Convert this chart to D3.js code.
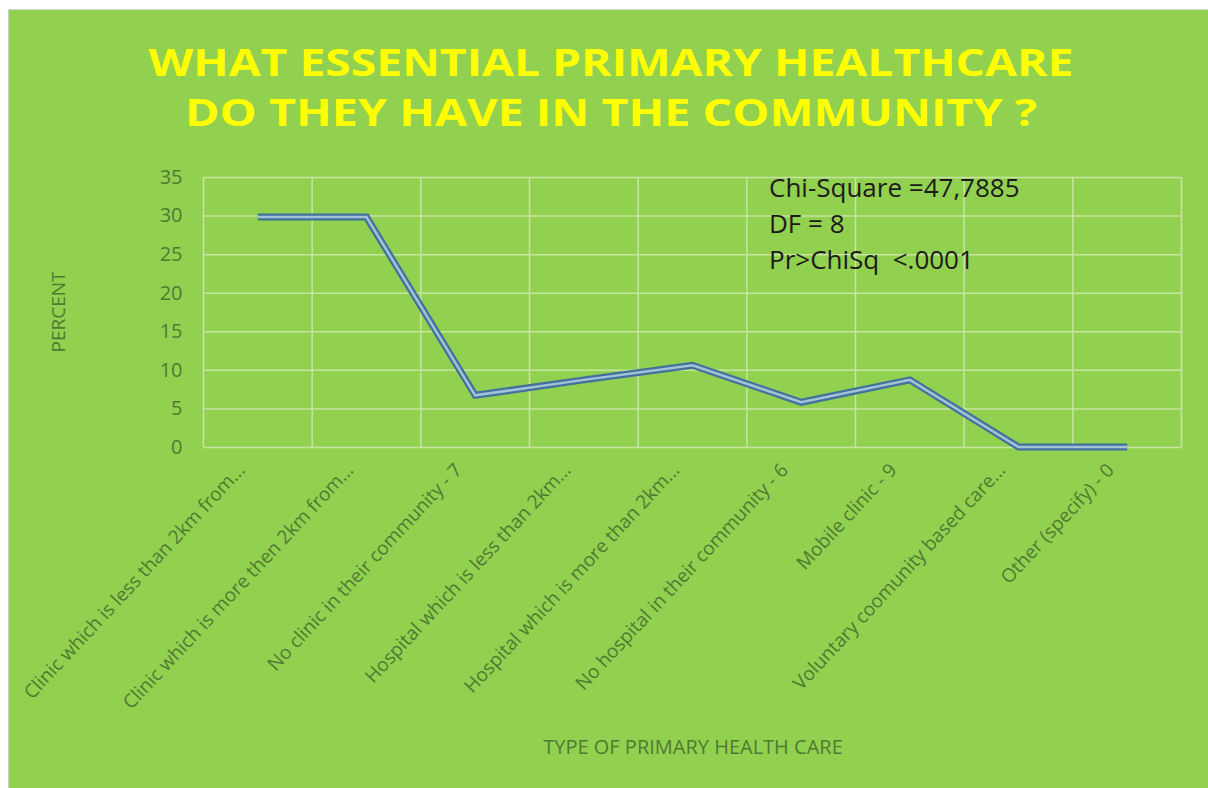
<!DOCTYPE html>
<html>
<head>
<meta charset="utf-8">
<script src="https://cdn.jsdelivr.net/npm/d3@7"></script>
<style>
  html, body { margin: 0; padding: 0; background: #ffffff; }
  svg { display: block; }
</style>
</head>
<body>
<svg id="chart" width="1208" height="788"></svg>
<script>
// Type of primary health care available in the community (percent of respondents)
const categories = [
  "Clinic which is less than 2km from...",
  "Clinic which is more then 2km from...",
  "No clinic in their community - 7",
  "Hospital which is less than 2km...",
  "Hospital which is more than 2km...",
  "No hospital in their community - 6",
  "Mobile clinic - 9",
  "Voluntary coomunity based care...",
  "Other (specify) - 0"
];
const percents = [29.8, 29.8, 6.7, 8.7, 10.6, 5.8, 8.7, 0, 0];
const yTicks = [0, 5, 10, 15, 20, 25, 30, 35];
const titleLines = ["WHAT ESSENTIAL PRIMARY HEALTHCARE", "DO THEY HAVE IN THE COMMUNITY ?"];
const statsLines = ["Chi-Square =47,7885", "DF = 8", "Pr>ChiSq  <.0001"];

const svg = d3.select("#chart");
const W = 1208, H = 788;
const green = "#92D050";
const textGreen = "#4F7B31";
const gridColor = "#C6E5A2";

// chart background with thin grey edge
svg.append("rect").attr("x", 8).attr("y", 9).attr("width", W - 8).attr("height", H - 9)
  .attr("fill", green);
svg.append("line").attr("x1", 8.5).attr("x2", 8.5).attr("y1", 9).attr("y2", H)
  .attr("stroke", "#c8cfc0").attr("stroke-width", 1);
svg.append("line").attr("x1", 8).attr("x2", W).attr("y1", 9.5).attr("y2", 9.5)
  .attr("stroke", "#d0d6c8").attr("stroke-width", 1);

const plot = { left: 203.5, right: 1181.5, top: 177, bottom: 447 };

const x = d3.scaleBand().domain(categories).range([plot.left, plot.right]);
const y = d3.scaleLinear().domain([0, 35]).range([plot.bottom, plot.top]);

// title
svg.append("g").selectAll("text").data(titleLines).join("text")
  .attr("x", 611)
  .attr("y", (d, i) => 76 + i * 50)
  .attr("text-anchor", "middle")
  .attr("font-family", "Open Sans, sans-serif")
  .attr("font-weight", 700)
  .attr("font-size", 37)
  .attr("fill", "#FFFF00")
  .attr("textLength", (d, i) => i === 0 ? 925 : 852)
  .attr("lengthAdjust", "spacingAndGlyphs")
  .text(d => d);

// horizontal gridlines
const gy = svg.append("g")
  .attr("transform", `translate(${plot.left},0)`)
  .call(d3.axisLeft(y).tickValues(yTicks).tickSize(-(plot.right - plot.left)).tickFormat(""));
gy.select(".domain").remove();
gy.selectAll(".tick line").attr("stroke", gridColor).attr("stroke-width", 1.5);

// vertical gridlines at category boundaries
const bounds = categories.map(c => x(c)).concat([plot.right]);
svg.append("g").selectAll("line").data(bounds).join("line")
  .attr("x1", d => d).attr("x2", d => d)
  .attr("y1", plot.top).attr("y2", plot.bottom)
  .attr("stroke", gridColor).attr("stroke-width", 1.5);

// y tick labels
const yAxis = svg.append("g")
  .attr("transform", `translate(${plot.left},0)`)
  .call(d3.axisLeft(y).tickValues(yTicks).tickSize(0).tickPadding(21));
yAxis.select(".domain").remove();
yAxis.selectAll("text")
  .attr("font-family", "Open Sans, sans-serif")
  .attr("font-size", 20)
  .attr("fill", textGreen);

// x category labels, rotated
const xAxis = svg.append("g")
  .attr("transform", `translate(0,${plot.bottom})`)
  .call(d3.axisBottom(x).tickSize(0).tickPadding(0));
xAxis.select(".domain").remove();
xAxis.selectAll("text")
  .attr("font-family", "Open Sans, sans-serif")
  .attr("font-size", 19)
  .attr("fill", textGreen)
  .attr("text-anchor", "end")
  .attr("dy", 0)
  .attr("transform", "translate(-12,24) rotate(-47)");

// axis titles
svg.append("text")
  .attr("transform", `translate(65,312) rotate(-90)`)
  .attr("text-anchor", "middle")
  .attr("font-family", "Open Sans, sans-serif")
  .attr("font-size", 19)
  .attr("fill", textGreen)
  .text("PERCENT");

svg.append("text")
  .attr("x", 693).attr("y", 754)
  .attr("text-anchor", "middle")
  .attr("font-family", "Open Sans, sans-serif")
  .attr("font-size", 20)
  .attr("fill", textGreen)
  .text("TYPE OF PRIMARY HEALTH CARE");

// the series: a double (compound) line
const line = d3.line()
  .x((d, i) => x(categories[i]) + x.bandwidth() / 2)
  .y(d => y(d));

svg.append("path").datum(percents)
  .attr("d", line)
  .attr("fill", "none")
  .attr("stroke", "#41729E")
  .attr("stroke-width", 7)
  .attr("stroke-linejoin", "miter");
svg.append("path").datum(percents)
  .attr("d", line)
  .attr("fill", "none")
  .attr("stroke", "#A3C2D6")
  .attr("stroke-width", 2.5)
  .attr("stroke-linejoin", "miter");

// test statistics
svg.append("g").selectAll("text").data(statsLines).join("text")
  .attr("x", 769)
  .attr("y", (d, i) => 197 + i * 36)
  .attr("font-family", "Open Sans, sans-serif")
  .attr("font-size", 26)
  .attr("fill", "#1b1b1b")
  .attr("xml:space", "preserve")
  .style("white-space", "pre")
  .text(d => d);
</script>
</body>
</html>
